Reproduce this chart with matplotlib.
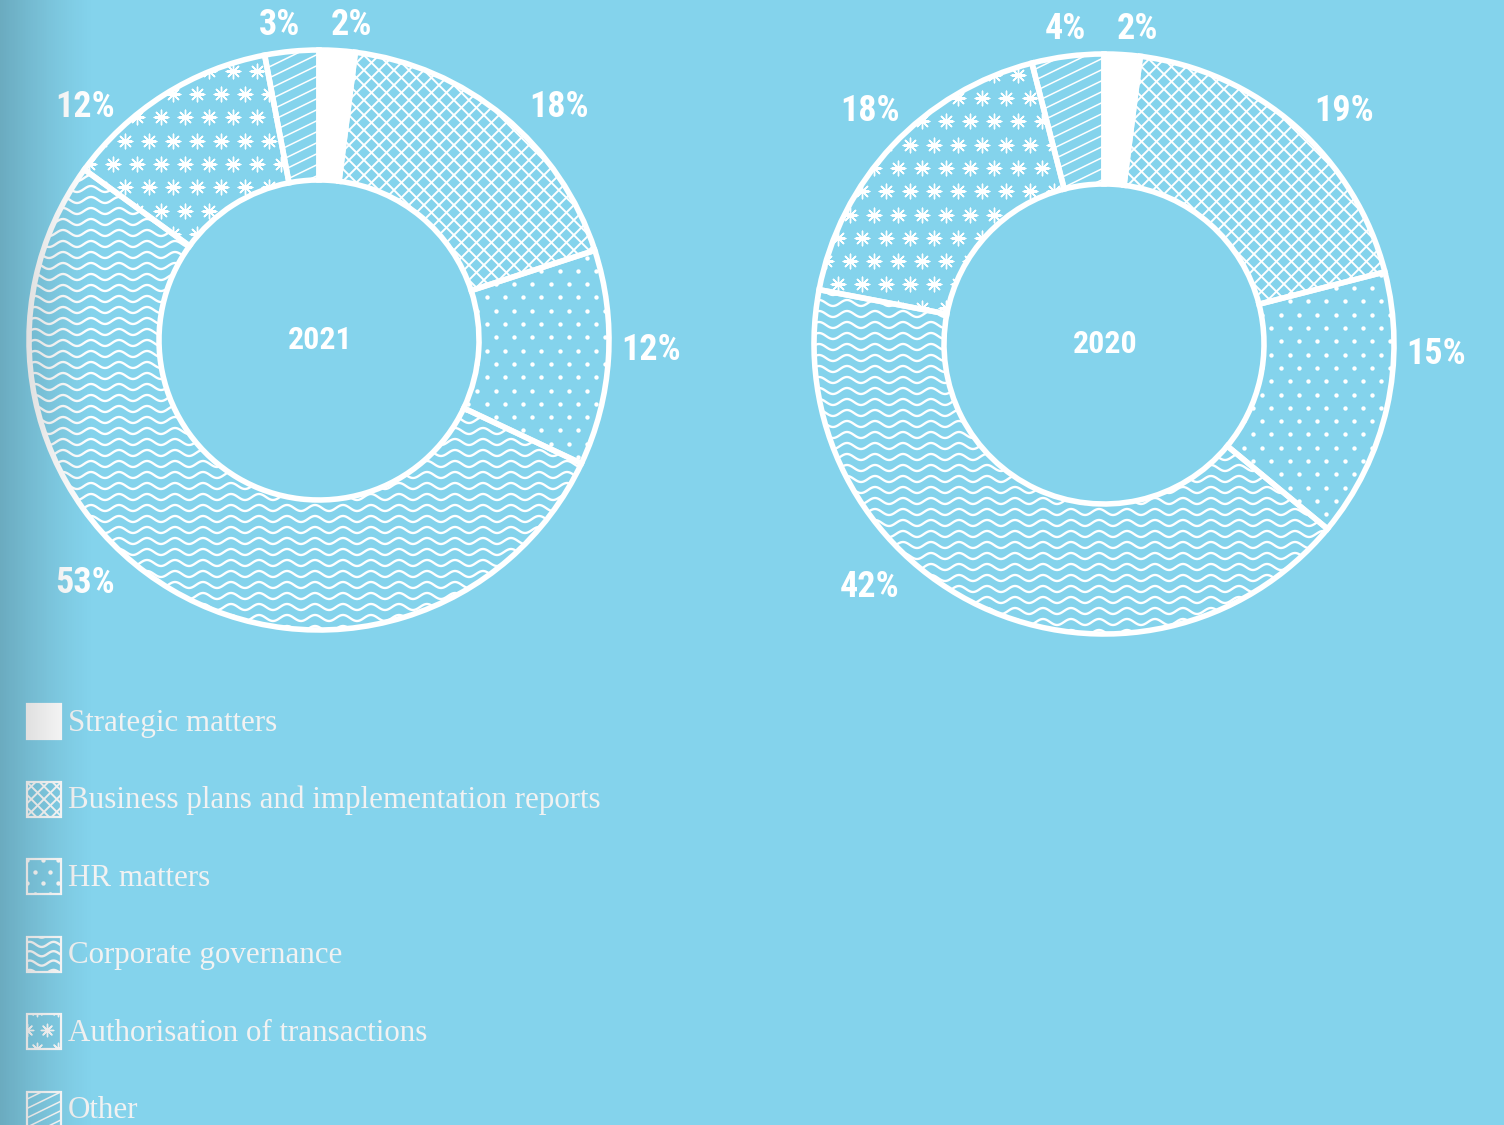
import numpy as np
import matplotlib
matplotlib.use('Agg')
import matplotlib.pyplot as plt
from matplotlib import font_manager
from matplotlib.collections import LineCollection
from matplotlib.patches import Rectangle

# board meeting topics, share of agenda items (%)
categories = ['Strategic matters', 'Business plans and implementation reports', 'HR matters',
              'Corporate governance', 'Authorisation of transactions', 'Other']
years = ['2021', '2020']
shares_2021 = [2, 18, 12, 53, 12, 3]
shares_2020 = [2, 19, 15, 42, 18, 4]
fills = ['solid', 'cross', 'dots', 'waves', 'stars', 'diag']

BG = '#84d3ec'
W, H = 1504, 1125

# label slots around each ring (pixel offsets from ring centre, image y downwards)
label_slots = [(33, -315), (240, -233), (332, 10), (-234, 243), (-234, -233), (-39, -315)]

# narrow bold face for the numbers, if one is around
_have = {f.name for f in font_manager.fontManager.ttflist}
_narrow = [f for f in ['Roboto Condensed', 'Liberation Sans Narrow', 'DejaVu Sans Condensed']
           if f in _have]
NUM_FONT = dict(family=_narrow + ['DejaVu Sans'], fontweight='bold', fontstretch='condensed')


def _lines(ax, clip, box, angle, gap, lw):
    x0, x1, y0, y1 = box
    mx, my = (x0 + x1) / 2, (y0 + y1) / 2
    half = np.hypot(x1 - x0, y1 - y0) / 2
    u = np.array([np.cos(np.radians(angle)), np.sin(np.radians(angle))])
    n = np.array([-u[1], u[0]])
    segs = []
    for k in np.arange(-int(half / gap) - 1, int(half / gap) + 2):
        p = np.array([mx, my]) + k * gap * n
        segs.append([p - half * u, p + half * u])
    lc = LineCollection(segs, colors='white', linewidths=lw, zorder=2)
    ax.add_collection(lc)
    lc.set_clip_path(clip)


def _grid(box, dx, dy):
    x0, x1, y0, y1 = box
    pts = []
    for i, yy in enumerate(np.arange(y0 - dy, y1 + dy, dy)):
        shift = (dx / 2) * (i % 2)
        for xx in np.arange(x0 - dx + shift, x1 + dx, dx):
            pts.append((xx, yy))
    return np.array(pts)


def draw_fill(ax, kind, clip, box, k=1.0):
    x0, x1, y0, y1 = box
    if kind == 'cross':
        _lines(ax, clip, box, 45, 10.6 * k, 1.4)
        _lines(ax, clip, box, -45, 10.6 * k, 1.4)
    elif kind == 'diag':
        _lines(ax, clip, box, 26, 9.9 * k, 1.1)
    elif kind == 'waves':
        xs = np.linspace(x0 - 5, x1 + 5, 800)
        segs = []
        for yy in np.arange(y0 - 10, y1 + 12, 11 * k):
            segs.append(np.column_stack([xs, yy + 3.0 * k * np.sin(2 * np.pi * xs / (28 * k))]))
        lc = LineCollection(segs, colors='white', linewidths=1.7, zorder=2)
        ax.add_collection(lc)
        lc.set_clip_path(clip)
    elif kind == 'dots':
        pts = _grid(box, 18.3 * k, 13.3 * k)
        sc = ax.scatter(pts[:, 0], pts[:, 1], s=10, c='white', linewidths=0, zorder=2)
        sc.set_clip_path(clip)
    elif kind == 'stars':
        pts = _grid(box, 24 * k, 23.3 * k)
        sc = ax.scatter(pts[:, 0], pts[:, 1], s=110 * k * k, marker=(8, 2, 0),
                        c='white', linewidths=1.0, zorder=2)
        sc.set_clip_path(clip)


def donut(ax, shares, year, cx, cy, R=290, width=130):
    colors = ['white' if f == 'solid' else BG for f in fills]
    wedges, _ = ax.pie(shares, radius=R, center=(cx, cy), startangle=90, counterclock=False,
                       colors=colors, wedgeprops=dict(width=width, linewidth=0, zorder=1))
    box = (cx - R, cx + R, cy - R, cy + R)
    for wdg, kind in zip(wedges, fills):
        if kind != 'solid':
            draw_fill(ax, kind, wdg, box)
    # white separators and ring outline on top of the fills
    outl, _ = ax.pie(shares, radius=R, center=(cx, cy), startangle=90, counterclock=False,
                     wedgeprops=dict(width=width, facecolor='none', edgecolor='white',
                                     linewidth=4.0))
    for w in outl:
        w.set_zorder(3)
    for v, (dx, dy) in zip(shares, label_slots):
        ax.text(cx + dx, cy - dy, f'{v}%', ha='center', va='center', color='white',
                fontsize=26, zorder=4, **NUM_FONT)
    ax.text(cx + 1, cy, year, ha='center', va='center', color='white', fontsize=23,
            zorder=4, **NUM_FONT)


fig = plt.figure(figsize=(15.04, 11.25), dpi=100, facecolor=BG)
ax = fig.add_axes([0, 0, 1, 1])
ax.set_facecolor(BG)

donut(ax, shares_2021, years[0], 319, H - 340)
donut(ax, shares_2020, years[1], 1104, H - 344)

# legend
for i, (name, kind) in enumerate(zip(categories, fills)):
    yc = H - (722 + i * 77.6)
    sq = Rectangle((27, yc - 17), 34, 35, facecolor='white' if kind == 'solid' else 'none',
                   edgecolor='white', linewidth=1.6, zorder=3)
    ax.add_patch(sq)
    if kind != 'solid':
        draw_fill(ax, kind, sq, (27, 61, yc - 17, yc + 18), k=0.85)
    ax.text(68, yc - 1, name, ha='left', va='center', color='#f2f2f2', fontsize=22.3,
            family=['Liberation Serif', 'DejaVu Serif'], zorder=4)

# darker shading along the left edge
xs = np.arange(0, 100)
alpha = 0.19 * np.clip(1 - xs / 95, 0, 1) ** 1.3
shade = np.zeros((1, len(xs), 4))
shade[0, :, 3] = alpha
ax.imshow(shade, extent=[0, 100, 0, H], aspect='auto', zorder=10, interpolation='bilinear')

ax.set_xlim(0, W)
ax.set_ylim(0, H)
ax.set_aspect('equal')
ax.axis('off')

fig.savefig('out.png', dpi=100, facecolor=BG)
